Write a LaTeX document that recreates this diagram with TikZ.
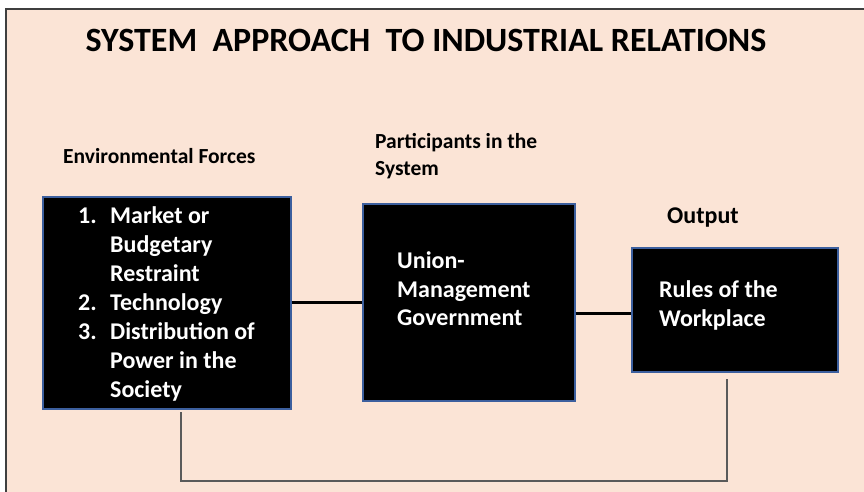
\documentclass[tikz,border=0pt]{standalone}
\usepackage{fontspec}
\setmainfont{Carlito}
\usetikzlibrary{calc}
\definecolor{paper}{HTML}{FBE4D6}
\definecolor{frameline}{HTML}{3F3F3F}
\definecolor{boxedge}{HTML}{3C5F9E}
\definecolor{loopline}{HTML}{5A5A5A}
\tikzset{
  blackbox/.style={draw=boxedge, line width=1.2pt, fill=black, inner sep=0pt, rectangle},
  heading/.style={font=\bfseries\fontsize{21.5}{27}\selectfont, text=black, inner sep=0pt, anchor=base west},
  boxtext/.style={font=\bfseries\fontsize{24}{29}\selectfont, text=white, inner sep=0pt, anchor=base west},
  link/.style={line width=3pt, black},
  feedback/.style={line width=1.4pt, loopline},
}
\begin{document}
\begin{tikzpicture}[x=1pt, y=-1pt]
  % page and frame
  \useasboundingbox (0,0) rectangle (864,492);
  \fill[white] (0,0) rectangle (864,492);
  \fill[paper] (6,9) rectangle (864,492);
  \draw[frameline, line width=2pt] (6,492) -- (6,9) -- (864,9);

  % title
  \node[font=\bfseries\fontsize{34}{40}\selectfont, inner sep=0pt, anchor=base] (title)
    at (426,52) {SYSTEM\ \ APPROACH\ \ TO INDUSTRIAL RELATIONS};

  % column headings
  \node[heading] (envhead) at (63,163) {Environmental Forces};
  \node[heading] (parthead1) at (375,148) {Participants in the};
  \node[heading] (parthead2) at (375,175) {System};
  \node[heading, font=\bfseries\fontsize{24}{29}\selectfont] (outhead) at (667,223) {Output};

  % boxes
  \node[blackbox, minimum width=248pt, minimum height=212pt] (env) at (167,303) {};
  \node[blackbox, minimum width=212pt, minimum height=197pt] (part) at (469,302.5) {};
  \node[blackbox, minimum width=206pt, minimum height=124pt] (out) at (735,310) {};

  % environmental forces list
  \node[boxtext] (n1) at (78,223) {1.};
  \node[boxtext] (e1) at (110,223) {Market or};
  \node[boxtext] (e2) at (110,252) {Budgetary};
  \node[boxtext] (e3) at (110,281) {Restraint};
  \node[boxtext] (n2) at (78,310) {2.};
  \node[boxtext] (e4) at (110,310) {Technology};
  \node[boxtext] (n3) at (78,339) {3.};
  \node[boxtext] (e5) at (110,339) {Distribution of};
  \node[boxtext] (e6) at (110,368) {Power in the};
  \node[boxtext] (e7) at (110,397) {Society};

  % participants
  \node[boxtext] (p1) at (397,268) {Union-};
  \node[boxtext] (p2) at (397,297) {Management};
  \node[boxtext] (p3) at (397,325) {Government};

  % output
  \node[boxtext] (o1) at (659,297) {Rules of the};
  \node[boxtext] (o2) at (659,326) {Workplace};

  % connectors
  \draw[link] (env.east |- 0,302) -- (part.west |- 0,302);
  \draw[link] (part.east |- 0,313) -- (out.west |- 0,313);

  % feedback loop
  \coordinate (fa) at (181,412);
  \coordinate (fb) at (727,379);
  \coordinate (fc) at (727,481);
  \draw[feedback] (fa) |- (fc) -- (fb);
\end{tikzpicture}
\end{document}
